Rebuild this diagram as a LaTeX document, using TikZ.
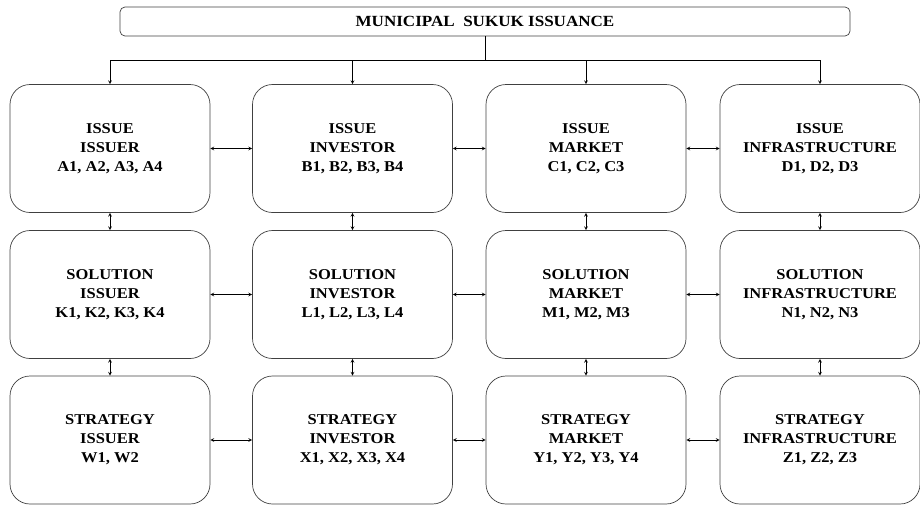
\documentclass[tikz,border=0pt]{standalone}
\usepackage{fontspec}
\setmainfont[FakeStretch=1.1]{Liberation Serif}
\usepackage{tikz}
\usetikzlibrary{shapes,positioning}

\begin{document}
\begin{tikzpicture}[x=1pt, y=-1pt,
        box/.style={rectangle, rounded corners=20pt, draw=black!75, line width=0.7pt, minimum width=200pt, minimum height=128pt, align=center, font=\fontsize{15}{19}\selectfont\bfseries},
        top/.style={rectangle, rounded corners=5pt, draw=black!75, line width=0.7pt, minimum width=730pt, minimum height=29pt, font=\fontsize{15.5}{17}\selectfont\bfseries},
        arrow/.style={->, >=stealth, line width=0.7pt},
        biarrow/.style={<->, >=stealth, line width=0.7pt}
    ]
    \useasboundingbox (0,0) rectangle (920,504);

    % Title
    \node[top] (title) at (485,21.5) {MUNICIPAL\ \ SUKUK ISSUANCE};
    \coordinate (split) at (485,60);

    % Issues
    \node[box] (issA) at (110,148.5) {ISSUE\\ISSUER\\A1, A2, A3, A4};
    \node[box] (issB) at (352.5,148.5) {ISSUE\\INVESTOR\\B1, B2, B3, B4};
    \node[box] (issC) at (586,148.5) {ISSUE\\MARKET\\C1, C2, C3};
    \node[box] (issD) at (820,148.5) {ISSUE\\INFRASTRUCTURE\\D1, D2, D3};

    % Solutions
    \node[box] (solA) at (110,294.5) {SOLUTION\\ISSUER\\K1, K2, K3, K4};
    \node[box] (solB) at (352.5,294.5) {SOLUTION\\INVESTOR\\L1, L2, L3, L4};
    \node[box] (solC) at (586,294.5) {SOLUTION\\MARKET\\M1, M2, M3};
    \node[box] (solD) at (820,294.5) {SOLUTION\\INFRASTRUCTURE\\N1, N2, N3};

    % Strategies
    \node[box] (strA) at (110,440) {STRATEGY\\ISSUER\\W1, W2};
    \node[box] (strB) at (352.5,440) {STRATEGY\\INVESTOR\\X1, X2, X3, X4};
    \node[box] (strC) at (586,440) {STRATEGY\\MARKET\\Y1, Y2, Y3, Y4};
    \node[box] (strD) at (820,440) {STRATEGY\\INFRASTRUCTURE\\Z1, Z2, Z3};

    % Title to issues
    \draw[line width=0.7pt] (title.south) -- (split);
    \draw[arrow] (split) -| (issA.north);
    \draw[arrow] (split) -| (issB.north);
    \draw[arrow] (split) -| (issC.north);
    \draw[arrow] (split) -| (issD.north);

    % Arrows along rows
    \draw[biarrow] (issA) -- (issB);
    \draw[biarrow] (issB) -- (issC);
    \draw[biarrow] (issC) -- (issD);
    \draw[biarrow] (solA) -- (solB);
    \draw[biarrow] (solB) -- (solC);
    \draw[biarrow] (solC) -- (solD);
    \draw[biarrow] (strA) -- (strB);
    \draw[biarrow] (strB) -- (strC);
    \draw[biarrow] (strC) -- (strD);

    % Arrows along columns
    \draw[biarrow] (issA) -- (solA);
    \draw[biarrow] (issB) -- (solB);
    \draw[biarrow] (issC) -- (solC);
    \draw[biarrow] (issD) -- (solD);
    \draw[biarrow] (solA) -- (strA);
    \draw[biarrow] (solB) -- (strB);
    \draw[biarrow] (solC) -- (strC);
    \draw[biarrow] (solD) -- (strD);

\end{tikzpicture}
\end{document}
